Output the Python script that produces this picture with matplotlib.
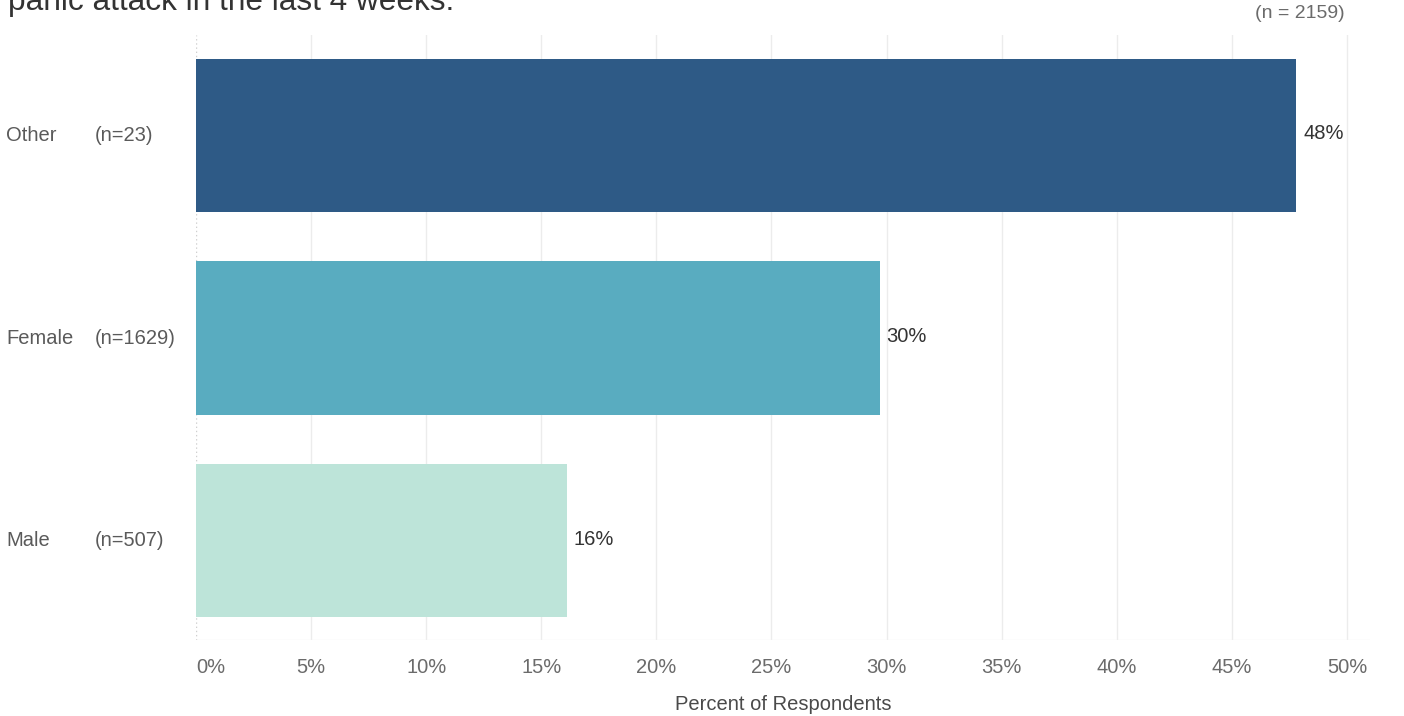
import matplotlib
matplotlib.use("Agg")
import matplotlib.pyplot as plt
import matplotlib.transforms as mtransforms
import numpy as np

plt.rcParams['font.family'] = ['Liberation Sans', 'DejaVu Sans']

# share of respondents reporting a panic attack, by gender
genders = ['Other', 'Female', 'Male']
counts = [23, 1629, 507]
percents = [47.8, 29.7, 16.1]
bar_colors = ['#2e5a86', '#59acc0', '#bde4d9']
ticks = list(range(0, 55, 5))
total_n = 2159

fig = plt.figure(figsize=(14.04, 7.16), dpi=100)
ax = fig.add_axes([196 / 1404, 1 - 640 / 716, 1174 / 1404, 605 / 716])

y = np.arange(len(genders))
ax.barh(y, percents, height=0.754, color=bar_colors, zorder=3)

ax.set_xlim(0, 51)
ax.set_ylim(2.488, -0.493)

# light vertical gridlines, dotted zero line
for t in ticks[1:]:
    ax.axvline(t, color='#ececec', lw=1, zorder=1)
ax.axvline(0, color='#d0d0d0', lw=1, ls=(0, (1, 2)), zorder=1)
ax.axhline(2.488, color='#f2f2f2', lw=1, zorder=1)

ax.set_xticks(ticks)
ax.set_xticklabels([f'{t}%' for t in ticks], fontsize=14.5, color='#6b6b6b')
ax.get_xticklabels()[0].set_horizontalalignment('left')
ax.tick_params(axis='x', length=0, pad=13)
ax.set_yticks([])
for s in ax.spines.values():
    s.set_visible(False)
ax.set_xlabel('Percent of Respondents', fontsize=14.5, color='#4a4a4a', labelpad=13)

# value labels at the bar ends
for yi, p in zip(y, percents):
    ax.annotate(f'{p:.0f}%', (p, yi), xytext=(5, 1), textcoords='offset points',
                va='center', ha='left', fontsize=14.5, color='#333333')

# category names and sample sizes in the left margin
trans = mtransforms.blended_transform_factory(fig.transFigure, ax.transData)
for yi, g, n in zip(y, genders, counts):
    ax.text(6 / 1404, yi, g, transform=trans, va='center', ha='left',
            fontsize=14.5, color='#5a5a5a')
    ax.text(95 / 1404, yi, f'(n={n})', transform=trans, va='center', ha='left',
            fontsize=14.5, color='#5a5a5a')

fig.text(8 / 1404, 1 - 10 / 716, 'panic attack in the last 4 weeks.',
         fontsize=22.8, color='#333333', va='baseline', ha='left')
fig.text(1300 / 1404, 1 - 14 / 716, f'(n = {total_n})', fontsize=14,
         color='#6b6b6b', va='center', ha='center')

fig.savefig('out.png', dpi=100, facecolor='white')
